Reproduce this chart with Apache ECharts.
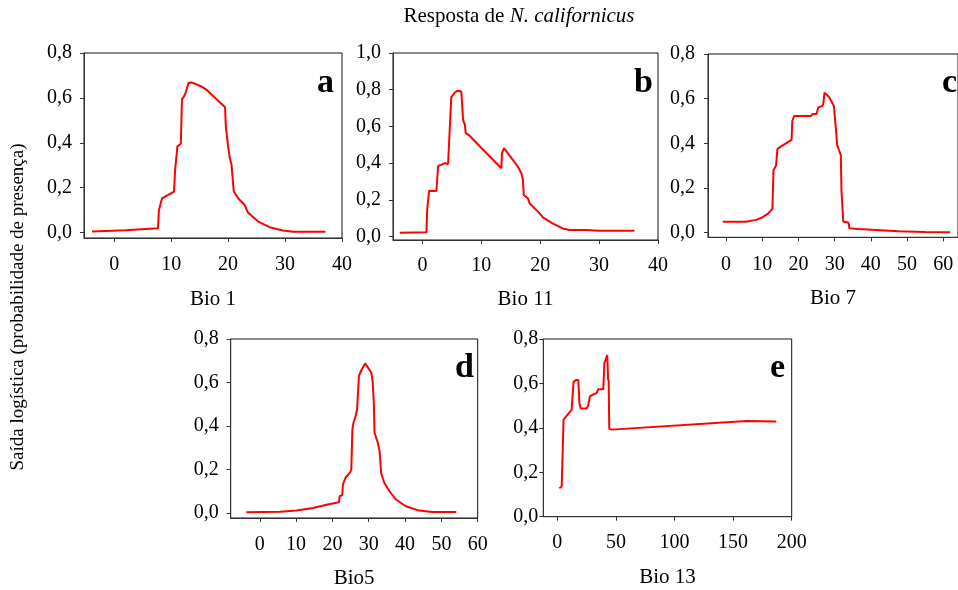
<!DOCTYPE html>
<html>
<head>
<meta charset="utf-8">
<script src="https://cdn.jsdelivr.net/npm/echarts@6/dist/echarts.min.js"></script>
<style>html,body{margin:0;padding:0;background:#fff}#c{width:958px;height:590px}</style>
</head>
<body>
<div id="c"></div>
<script>
// ---- data ----
const bio1 = [[-3.9,0.005],[2,0.01],[7.7,0.019],[7.85,0.10],[8.2,0.104],[8.4,0.153],[10.5,0.183],[10.7,0.28],[11.0,0.283],[11.1,0.384],[11.7,0.396],[11.9,0.595],[12.2,0.604],[12.57,0.625],[12.8,0.632],[13.04,0.666],[13.6,0.669],[15.0,0.654],[15.6,0.647],[16.2,0.636],[19.47,0.558],[19.6,0.473],[20.0,0.384],[20.3,0.332],[20.6,0.302],[21.0,0.183],[21.75,0.153],[22.9,0.123],[23.5,0.089],[25.3,0.049],[27.3,0.024],[29.6,0.009],[31.4,0.004],[37.1,0.004]];
const bio11 = [[-3.84,0.022],[0.68,0.024],[0.8,0.145],[0.96,0.155],[1.13,0.25],[2.37,0.249],[2.66,0.385],[3.2,0.391],[3.5,0.385],[3.8,0.4],[4.35,0.396],[4.6,0.39],[4.9,0.76],[5.2,0.767],[5.5,0.785],[6.0,0.795],[6.6,0.79],[6.9,0.636],[7.2,0.61],[7.35,0.564],[8.0,0.55],[8.4,0.536],[13.4,0.373],[13.5,0.455],[13.85,0.482],[16.2,0.382],[16.8,0.345],[17.06,0.31],[17.2,0.227],[17.9,0.209],[18.2,0.182],[19.9,0.127],[20.5,0.104],[22.1,0.073],[23.8,0.045],[25.0,0.036],[26.1,0.036],[26.4,0.042],[27.8,0.036],[30,0.033],[36.0,0.033]];
const bio7 = [[-0.92,0.049],[5.5,0.049],[8.3,0.057],[10.1,0.069],[11.5,0.084],[12.8,0.106],[13.1,0.28],[13.8,0.3],[14.2,0.375],[15.1,0.385],[18.1,0.415],[18.3,0.5],[18.8,0.522],[23.4,0.522],[23.9,0.531],[25.0,0.531],[25.5,0.561],[26.6,0.567],[26.9,0.58],[27.2,0.627],[27.5,0.631],[28.4,0.609],[29.8,0.567],[30.3,0.475],[30.7,0.393],[31.2,0.37],[31.7,0.348],[31.9,0.184],[32.4,0.049],[33.8,0.045],[34.1,0.019],[36.7,0.016],[41.3,0.012],[47.7,0.006],[55,0.003],[61.9,0.0015]];
const bio5 = [[-3.7,0.003],[5.6,0.006],[10.1,0.012],[14.7,0.023],[18.4,0.038],[21.8,0.049],[22.0,0.077],[22.7,0.082],[22.9,0.131],[23.6,0.162],[24.9,0.188],[25.2,0.2],[25.5,0.385],[25.8,0.415],[26.4,0.446],[26.8,0.477],[27.3,0.63],[27.9,0.654],[29.0,0.688],[30.7,0.646],[31.1,0.6],[31.4,0.508],[31.6,0.369],[32.5,0.323],[33.0,0.285],[33.4,0.185],[34.3,0.138],[35.7,0.1],[37.5,0.062],[40.2,0.031],[43.9,0.011],[47.5,0.005],[54.1,0.005]];
const bio13 = [[1.7,0.128],[3.7,0.136],[5.1,0.136],[5.3,0.437],[6.5,0.441],[12.2,0.482],[13.4,0.491],[13.8,0.607],[15.9,0.615],[17.9,0.615],[18.8,0.512],[19.9,0.487],[25,0.487],[26.4,0.502],[27.8,0.542],[30.7,0.551],[33.5,0.557],[34.9,0.574],[39.2,0.574],[40.1,0.69],[41.5,0.698],[42.6,0.728],[43.3,0.62],[43.8,0.61],[44.3,0.396],[46.3,0.392],[161.4,0.431],[186.9,0.429]];

const xTicks1 = [0,10,20,30,40];
const xTicks11 = [0,10,20,30,40];
const xTicks7 = [0,10,20,30,40,50,60];
const xTicks5 = [0,10,20,30,40,50,60];
const xTicks13 = [0,50,100,150,200];
const yTicks08 = [0,0.2,0.4,0.6,0.8];
const yTicks10 = [0,0.2,0.4,0.6,0.8,1.0];

const axisNames = ['Bio 1','Bio 11','Bio 7','Bio5','Bio 13'];
const panelLetters = ['a','b','c','d','e'];
const titleMain = 'Resposta de ';
const titleItalic = 'N. californicus';
const yTitle = 'Saída logística (probabilidade de presença)';

// ---- layout ----
const FONT = '"Liberation Serif", "Times New Roman", serif';
const panels = [
  {data: bio1,  xt: xTicks1,  yt: yTicks08, grid:{left:84,  top:53,  width:258, height:185}, x:[-5.3,40], y:[-0.024,0.8], lm:12, xm:17, ng:51, letter:[334,83]},
  {data: bio11, xt: xTicks11, yt: yTicks10, grid:{left:393, top:53,  width:265, height:187}, x:[-5,40],   y:[-0.018,1.0], lm:12, xm:16, ng:49, letter:[653,83]},
  {data: bio7,  xt: xTicks7,  yt: yTicks08, grid:{left:708, top:54,  width:251, height:183.3}, x:[-5,64.1], y:[-0.021,0.8], lm:13, xm:17, ng:51, letter:[957,83]},
  {data: bio5,  xt: xTicks5,  yt: yTicks08, grid:{left:230.7, top:339, width:247, height:179.3}, x:[-8,60],  y:[-0.023,0.8], lm:12, xm:17, ng:50, letter:[474,368]},
  {data: bio13, xt: xTicks13, yt: yTicks08, grid:{left:543.3, top:339, width:248.4, height:177.7}, x:[-12,200], y:[0,0.8], lm:5, xm:16, ng:50, letter:[785,368]}
];

const axisColor = '#333';
const grids = [], xAxes = [], yAxes = [], series = [], graphics = [];
panels.forEach((p, i) => {
  grids.push(Object.assign({show:true, borderColor:'#111', borderWidth:1, backgroundColor:'transparent', containLabel:false}, p.grid));
  xAxes.push({
    type:'value', gridIndex:i, min:p.x[0], max:p.x[1],
    axisLine:{show:true, onZero:false, lineStyle:{color:axisColor, width:1}},
    axisTick:{show:true, length:4, customValues:p.xt, lineStyle:{color:axisColor}},
    axisLabel:{customValues:p.xt, fontFamily:FONT, fontSize:20, color:'#000', margin:p.xm},
    splitLine:{show:false},
    name:axisNames[i], nameLocation:'middle', nameGap:p.ng,
    nameTextStyle:{fontFamily:FONT, fontSize:21, color:'#000'}
  });
  yAxes.push({
    type:'value', gridIndex:i, min:p.y[0], max:p.y[1],
    axisLine:{show:true, onZero:false, lineStyle:{color:axisColor, width:1}},
    axisTick:{show:true, length:4, customValues:p.yt, lineStyle:{color:axisColor}},
    axisLabel:{customValues:p.yt, fontFamily:FONT, fontSize:20, color:'#000', margin:p.lm,
      formatter: v => v.toFixed(1).replace('.', ',')},
    splitLine:{show:false}
  });
  series.push({
    type:'line', xAxisIndex:i, yAxisIndex:i, data:p.data,
    symbol:'none', showSymbol:false, silent:true,
    lineStyle:{color:'#ff0000', width:2}
  });
  graphics.push({
    type:'text', x:p.letter[0], y:p.letter[1],
    style:{text:panelLetters[i], font:'bold 34px ' + FONT, fill:'#000', align:'right', verticalAlign:'middle'}
  });
});

graphics.push({
  type:'text', x:519, y:16,
  style:{
    text:'{r|' + titleMain + '}{i|' + titleItalic + '}',
    align:'center', verticalAlign:'middle',
    rich:{
      r:{fontFamily:FONT, fontSize:21, fill:'#000'},
      i:{fontFamily:FONT, fontSize:21, fontStyle:'italic', fill:'#000'}
    }
  }
});
graphics.push({
  type:'text', x:18, y:307, rotation:Math.PI/2,
  style:{text:yTitle, font:'19px ' + FONT, fill:'#000', align:'center', verticalAlign:'middle'}
});

const chart = echarts.init(document.getElementById('c'), null, {renderer:'canvas'});
chart.setOption({
  animation:false,
  backgroundColor:'#fff',
  grid:grids, xAxis:xAxes, yAxis:yAxes, series:series, graphic:graphics
});
</script>
</body>
</html>
